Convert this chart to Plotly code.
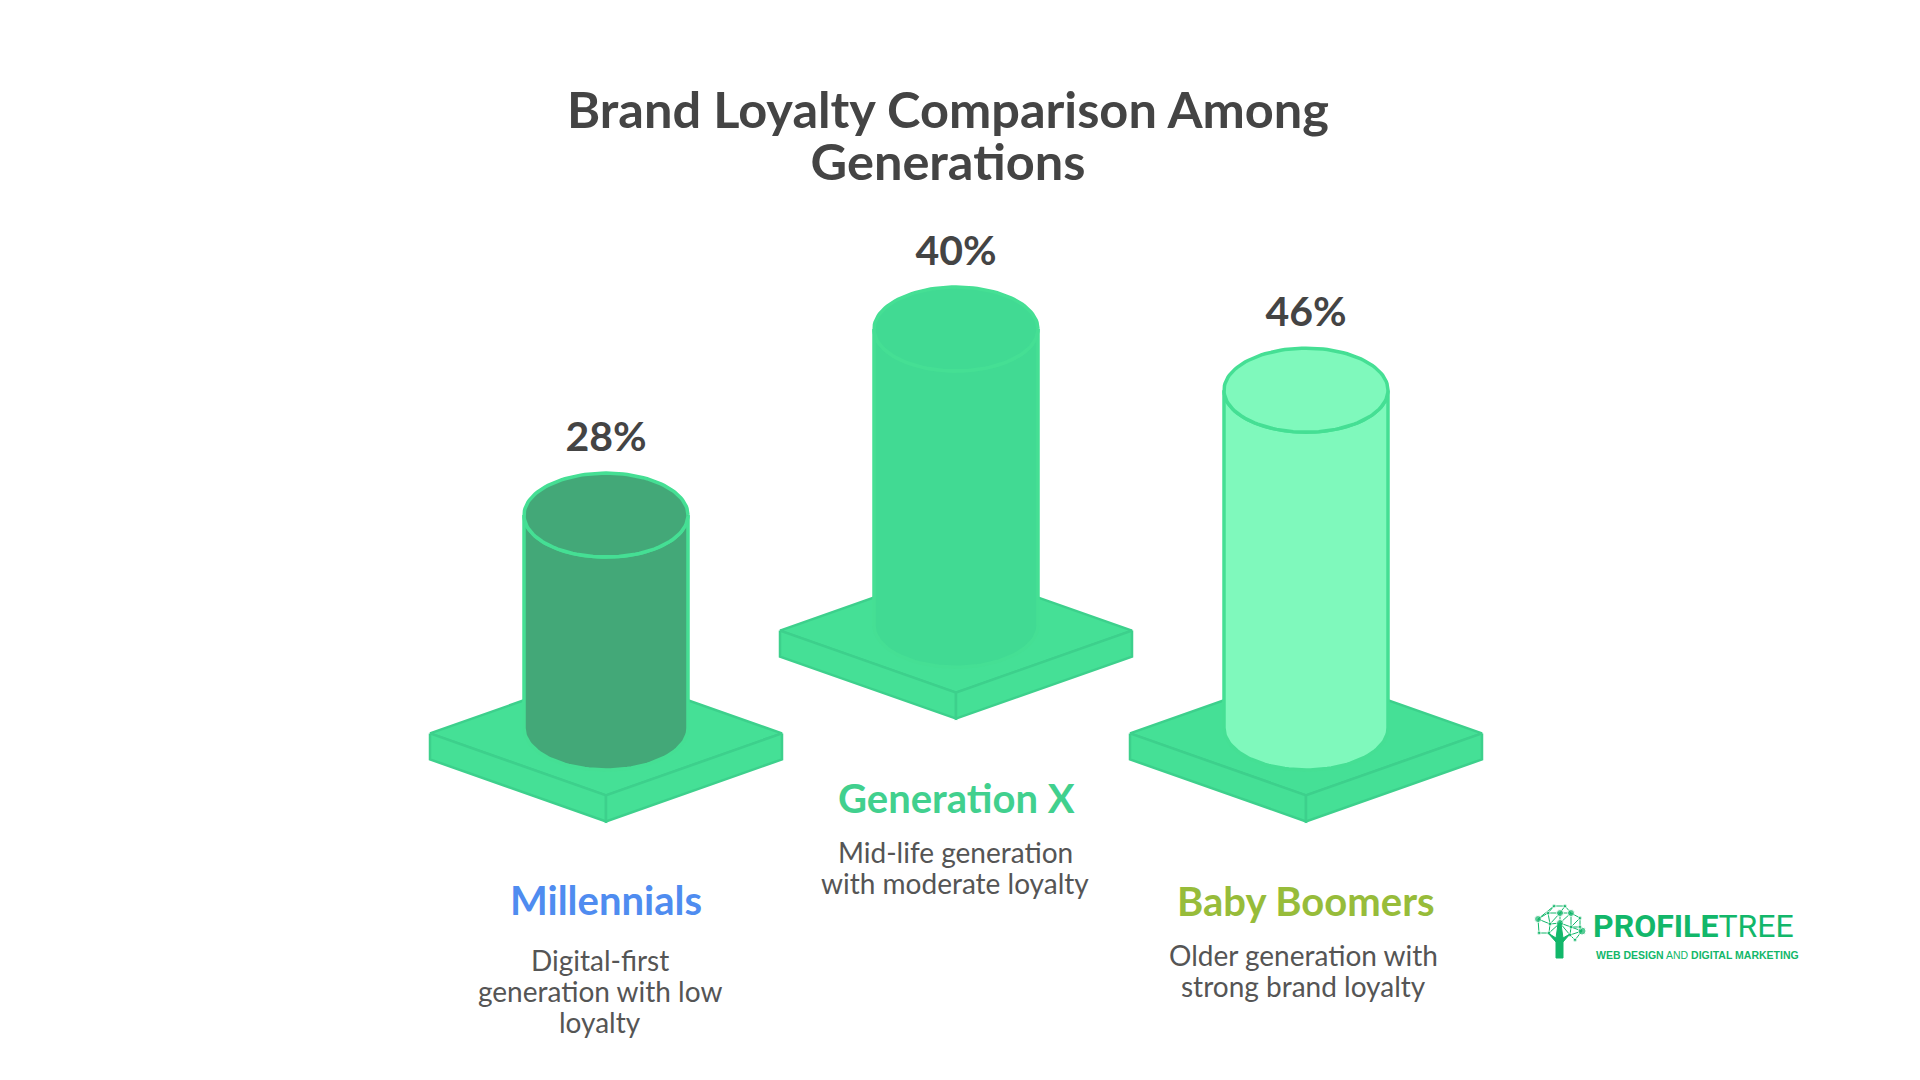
import numpy as np
import plotly.graph_objects as go

# ---- data ----
categories = ["Millennials", "Generation X", "Baby Boomers"]
loyalty_pct = [28, 40, 46]
value_labels = ["28%", "40%", "46%"]
descriptions = [["Digital-first", "generation with low", "loyalty"],
                ["Mid-life generation", "with moderate loyalty"],
                ["Older generation with", "strong brand loyalty"]]
title_lines = ["Brand Loyalty Comparison Among", "Generations"]

# ---- layout constants (pixels of the 1920x1080 canvas) ----
W, H = 1920, 1080
PX_PER_PCT = 6.94
ZERO_PX = 709.4
center_x = [606, 956, 1306]
lift_px = [0, 102.8, 0]
FLOOR_DROP = 18.6
BASE_DROP = 24.0
RX, RY = 82, 42
BASE_HW, BASE_HH, BASE_T = 176, 62, 26
LABEL_GAP = 32
cat_y = [900, 798, 901]
desc_y = [960, 852, 955]
desc_step = 31
desc_x = [600, 955, 1303]
cat_colors = ["#4F8CF0", "#41D08E", "#97BC3A"]
body_colors = ["#43A878", "#41DA93", "#7FF9BC"]
STROKE = "#45DF94"
BASE_FILL = "#45E096"
BASE_EDGE = "#3DD08C"
INK = "#444444"
DESC_INK = "#555555"
LOGO = "#12B76A"
FONT = "Lato"

fig = go.Figure()


def u(px):
    return px / PX_PER_PCT


def poly(xs, ys, fill, line, width=2.5, name=None):
    fig.add_trace(go.Scatter(x=xs, y=ys, mode="lines", fill="toself", fillcolor=fill,
                             line=dict(color=line, width=width), hoverinfo="skip",
                             showlegend=False, name=name))


t = np.linspace(0, 2 * np.pi, 121)
half = np.linspace(np.pi, 0, 61)
for name, value, cx, lift, col in zip(categories, loyalty_pct, center_x, lift_px, body_colors):
    floor = u(lift - FLOOR_DROP)
    plat = u(lift - BASE_DROP)
    hh, th = u(BASE_HH), u(BASE_T)
    # platform: top face and two front faces
    poly([cx - BASE_HW, cx, cx + BASE_HW, cx, cx - BASE_HW],
         [plat, plat + hh, plat, plat - hh, plat], BASE_FILL, BASE_EDGE)
    poly([cx - BASE_HW, cx, cx, cx - BASE_HW, cx - BASE_HW],
         [plat, plat - hh, plat - hh - th, plat - th, plat], BASE_FILL, BASE_EDGE)
    poly([cx + BASE_HW, cx, cx, cx + BASE_HW, cx + BASE_HW],
         [plat, plat - hh, plat - hh - th, plat - th, plat], BASE_FILL, BASE_EDGE)
    # cylinder body, its height given by the value
    top = u(lift) + value
    bx = cx + RX * np.cos(half)
    by = floor - u(RY) * np.sin(half)
    tx = cx + RX * np.cos(half[::-1])
    ty = top - u(RY) * np.sin(half[::-1])
    poly(np.r_[bx, tx, bx[0]], np.r_[by, ty, by[0]], col, STROKE, 3.5, name=name)
    # top cap
    poly(cx + RX * np.cos(t), top + u(RY) * np.sin(t), col, STROKE, 3.5, name=name)

# value labels sit a fixed gap above each cylinder
fig.add_trace(go.Scatter(
    x=center_x,
    y=[u(l) + v + u(RY) + u(LABEL_GAP) for l, v in zip(lift_px, loyalty_pct)],
    mode="text", text=[f"<b>{s}</b>" for s in value_labels], textposition="middle center",
    textfont=dict(family=FONT, size=41, color=INK), hoverinfo="skip", showlegend=False))

# ---- logo tree (overlay axes in plain pixels) ----
tree_nodes = [(1538, 919), (1554, 906), (1565, 906), (1548, 913), (1560, 913), (1571, 913),
              (1580, 918), (1550, 924), (1560, 923), (1571, 927), (1539, 933), (1549, 933),
              (1570, 935), (1575, 940), (1582, 931), (1580, 927)]
tree_sizes = [7, 4, 4, 4, 7, 7, 4, 4, 7, 4, 4, 4, 4, 4, 8, 4]
tree_edges = [(0, 1), (0, 3), (1, 2), (1, 3), (2, 5), (2, 4), (3, 4), (4, 5), (5, 6), (0, 7), (3, 7),
              (4, 7), (4, 8), (5, 8), (5, 9), (6, 9), (6, 15), (7, 8), (8, 9), (9, 15), (0, 10), (7, 11),
              (10, 11), (8, 11), (8, 12), (9, 12), (12, 13), (9, 14), (14, 13), (15, 14), (12, 14)]
ex, ey = [], []
for a, b in tree_edges:
    ex += [tree_nodes[a][0], tree_nodes[b][0], None]
    ey += [tree_nodes[a][1], tree_nodes[b][1], None]
fig.add_trace(go.Scatter(x=ex, y=ey, mode="lines", line=dict(color=LOGO, width=1), xaxis="x2", yaxis="y2",
                         hoverinfo="skip", showlegend=False))
fig.add_trace(go.Scatter(x=[n[0] for n in tree_nodes], y=[n[1] for n in tree_nodes], mode="markers",
                         marker=dict(color=LOGO, size=tree_sizes), xaxis="x2", yaxis="y2",
                         hoverinfo="skip", showlegend=False))
trunk_x = [1556, 1563, 1563, 1570, 1563, 1561, 1560, 1558, 1556, 1556, 1548, 1556, 1556]
trunk_y = [958, 958, 942, 934, 938, 924, 924, 924, 938, 942, 933, 938, 958]
fig.add_trace(go.Scatter(x=trunk_x, y=trunk_y, mode="lines", fill="toself", fillcolor=LOGO,
                         line=dict(color=LOGO, width=1), xaxis="x2", yaxis="y2",
                         hoverinfo="skip", showlegend=False))


def text(x, y, s, size, color, family=FONT, xanchor="center"):
    fig.add_annotation(x=x, y=y, xref="x2", yref="y2", text=s, showarrow=False, xanchor=xanchor,
                       yanchor="middle", align="center", font=dict(family=family, size=size, color=color))


# one text element: the outer size (40) sets the 52px line step, the span sets the glyph size
title_html = "<br>".join(f'<span style="font-size:50.5px"><b>{ln}</b></span>' for ln in title_lines)
text(948, 134, title_html, 40, INK)
for i, name in enumerate(categories):
    text(center_x[i], cat_y[i], f"<b>{name}</b>", 40, cat_colors[i])
    for j, line in enumerate(descriptions[i]):
        text(desc_x[i], desc_y[i] + j * desc_step, line, 28, DESC_INK)
text(1591, 926, "<b>PROFILE</b>TREE", 32, LOGO, family="Roboto", xanchor="left")
text(1594, 955, "<b>WEB DESIGN</b> AND <b>DIGITAL MARKETING</b>", 10.5, LOGO, family="Liberation Sans", xanchor="left")

hidden = dict(visible=False, fixedrange=True)
fig.update_layout(
    width=W, height=H, margin=dict(l=0, r=0, t=0, b=0, pad=0),
    paper_bgcolor="white", plot_bgcolor="white", showlegend=False,
    xaxis=dict(range=[0, W], domain=[0, 1], **hidden),
    yaxis=dict(range=[(ZERO_PX - H) / PX_PER_PCT, ZERO_PX / PX_PER_PCT], domain=[0, 1], **hidden),
    xaxis2=dict(range=[0, W], overlaying="x", anchor="y2", **hidden),
    yaxis2=dict(range=[H, 0], overlaying="y", anchor="x2", **hidden),
)
fig.write_html("out.html", config={"displayModeBar": False},
               post_script="document.body.style.margin='0';document.body.style.overflow='hidden';")
